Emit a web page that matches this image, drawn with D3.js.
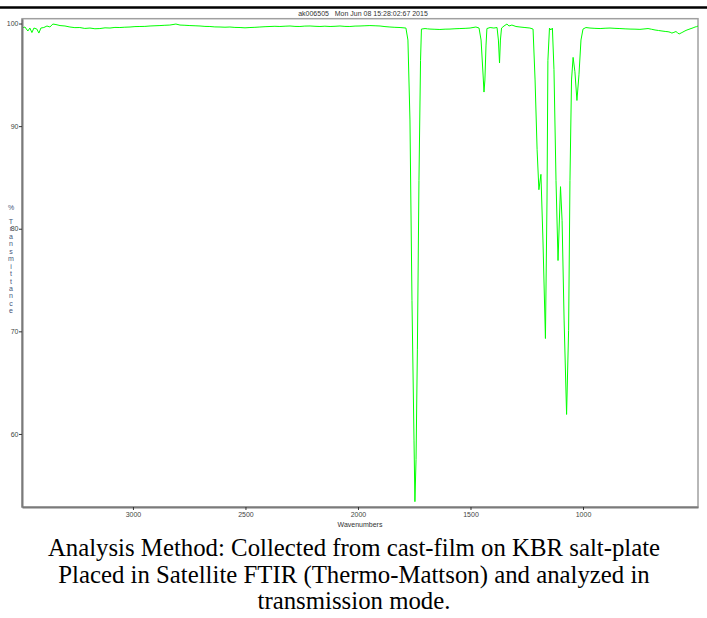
<!DOCTYPE html>
<html>
<head>
<meta charset="utf-8">
<script src="https://cdn.jsdelivr.net/npm/d3@7"></script>
<style>
  body { margin: 0; background: #fff; }
  svg { display: block; }
</style>
</head>
<body>
<script>
// spectrum (wavenumber, %T)
const wavenumbers = [
  3493, 3480, 3467, 3458, 3449, 3440, 3427, 3418, 3409, 3396, 3382, 3369, 3356, 3342, 3324,
  3302, 3280, 3258, 3236, 3214, 3191, 3169, 3147, 3124, 3102, 3080, 3058, 3036, 3013, 2991,
  2969, 2947, 2924, 2902, 2880, 2858, 2836, 2809, 2791, 2769, 2747, 2724, 2702, 2680, 2658,
  2636, 2613, 2591, 2569, 2547, 2524, 2502, 2480, 2458, 2436, 2413, 2391, 2369, 2347, 2324,
  2302, 2280, 2258, 2236, 2213, 2191, 2169, 2147, 2124, 2102, 2080, 2058, 2036, 2013, 1991,
  1969, 1947, 1924, 1902, 1880, 1858, 1836, 1813, 1787,
  1778, 1769, 1760, 1751, 1747, 1742, 1736, 1729, 1722, 1718,
  1702, 1691, 1680, 1658, 1636, 1613, 1591, 1569, 1547, 1524, 1502, 1476, 1462,
  1453, 1444, 1440, 1436, 1431, 1427, 1413, 1396, 1382,
  1376, 1371, 1367, 1362, 1351, 1338, 1329, 1316, 1298, 1280, 1258, 1236, 1222,
  1213, 1204, 1196, 1187, 1178, 1167, 1160, 1156, 1149, 1143, 1136, 1129, 1120, 1111,
  1100, 1093, 1084, 1073, 1064, 1058, 1051, 1044, 1036, 1027, 1018, 1009, 1000,
  987, 969, 947, 924, 902, 880, 858, 836, 813, 791, 769, 747, 729, 711, 695, 680, 664, 649,
  635, 622, 613, 605, 596, 587, 580, 573, 564, 556, 547, 538, 529, 520, 511, 502, 495, 489
];
const transmittance = [
  99.56, 99.66, 99.27, 99.56, 99.12, 99.56, 99.46, 99.07, 99.56, 99.61, 99.76, 99.66, 99.95, 99.90, 99.80,
  99.76, 99.66, 99.60, 99.61, 99.52, 99.56, 99.49, 99.51, 99.58, 99.56, 99.62, 99.61, 99.64, 99.66, 99.70,
  99.71, 99.72, 99.76, 99.78, 99.80, 99.83, 99.85, 99.95, 99.85, 99.83, 99.80, 99.78, 99.76, 99.72, 99.71,
  99.67, 99.66, 99.64, 99.66, 99.62, 99.61, 99.58, 99.61, 99.63, 99.66, 99.69, 99.71, 99.73, 99.71, 99.74,
  99.76, 99.72, 99.71, 99.75, 99.76, 99.73, 99.71, 99.74, 99.71, 99.73, 99.76, 99.72, 99.71, 99.75, 99.76,
  99.78, 99.80, 99.78, 99.76, 99.70, 99.66, 99.63, 99.61, 99.56,
  98.39, 90.60, 73.00, 59.40, 53.40, 57.50, 68.20, 84.70, 96.40, 99.46,
  99.51, 99.48, 99.46, 99.44, 99.42, 99.45, 99.46, 99.49, 99.51, 99.53, 99.56, 99.66, 99.56,
  98.39, 94.98, 93.32, 94.49, 97.90, 99.51, 99.61, 99.56, 99.61,
  98.39, 96.15, 98.39, 99.56, 99.76, 99.95, 99.76, 99.85, 99.71, 99.66, 99.61, 99.56, 99.46,
  94.50, 87.70, 83.80, 85.30, 78.90, 69.30, 82.80, 96.40, 99.56, 99.37, 99.56, 95.50, 84.70, 76.90,
  84.10, 80.80, 71.10, 61.90, 70.10, 84.70, 94.50, 96.70, 95.30, 92.50, 95.00, 98.39, 99.46,
  99.61, 99.56, 99.53, 99.51, 99.54, 99.56, 99.53, 99.51, 99.48, 99.46, 99.45, 99.43, 99.47, 99.51, 99.44, 99.37, 99.32, 99.27,
  99.23, 99.20, 99.15, 99.07, 99.14, 99.22, 99.10, 98.98, 99.08, 99.17, 99.28, 99.37, 99.44, 99.51, 99.58, 99.66, 99.70, 99.76
];
const xTicks = [3000, 2500, 2000, 1500, 1000];
const yTicks = [60, 70, 80, 90, 100];
const yLabel = ["%", "T", "r", "a", "n", "s", "m", "i", "t", "t", "a", "n", "c", "e"];
const chartTitle = "ak006505   Mon Jun 08 15:28:02:67 2015";
const caption = [
  "Analysis Method: Collected from cast-film on KBR salt-plate",
  "Placed in Satellite FTIR (Thermo-Mattson) and analyzed in",
  "transmission mode."
];

const width = 707, height = 618;
const plotLeft = 22, plotRight = 698, plotTop = 18.7, plotBottom = 507;

const svg = d3.select("body").append("svg")
    .attr("width", width)
    .attr("height", height);

svg.append("rect").attr("width", width).attr("height", height).attr("fill", "#fff");

// black rule across the top
svg.append("line")
    .attr("x1", 0).attr("x2", width)
    .attr("y1", 7.5).attr("y2", 7.5)
    .attr("stroke", "#000")
    .attr("stroke-width", 2.5);

const x = d3.scaleLinear().domain([3493, 489]).range([plotLeft, plotRight]);
const y = d3.scaleLinear().domain([52.88, 100.47]).range([plotBottom, plotTop]);

// frame
svg.append("rect")
    .attr("x", plotLeft).attr("y", plotTop)
    .attr("width", plotRight - plotLeft).attr("height", plotBottom - plotTop)
    .attr("fill", "none")
    .attr("stroke", "#a0a0a0")
    .attr("stroke-width", 1.5);

const points = wavenumbers.map((w, i) => [w, transmittance[i]]);

svg.append("path")
    .datum(points)
    .attr("fill", "none")
    .attr("stroke", "#00ff00")
    .attr("stroke-width", 1)
    .attr("d", d3.line().x(d => x(d[0])).y(d => y(d[1])));

const xAxis = svg.append("g")
    .attr("transform", `translate(0,${plotBottom})`)
    .call(d3.axisBottom(x).tickValues(xTicks).tickSize(3).tickSizeOuter(0).tickFormat(d3.format("d")));
const yAxis = svg.append("g")
    .attr("transform", `translate(${plotLeft},0)`)
    .call(d3.axisLeft(y).tickValues(yTicks).tickSize(3).tickSizeOuter(0).tickFormat(d3.format("d")));

for (let ax of [xAxis, yAxis]) {
    ax.select(".domain").attr("stroke", "#7a7a7a").attr("stroke-width", 2);
    ax.selectAll(".tick line").attr("stroke", "#333");
    ax.selectAll(".tick text")
        .attr("fill", "#444")
        .style("font-family", "Liberation Sans, Arial, sans-serif")
        .style("font-size", "7px");
}
yAxis.selectAll(".tick text").attr("x", -3.5);
xAxis.selectAll(".tick text").attr("y", 5);

svg.append("text")
    .attr("x", 363).attr("y", 16)
    .attr("text-anchor", "middle")
    .style("font-family", "Liberation Sans, Arial, sans-serif")
    .style("font-size", "7px")
    .attr("fill", "#333")
    .attr("xml:space", "preserve")
    .text(chartTitle);

svg.append("text")
    .attr("x", (plotLeft + plotRight) / 2).attr("y", 527)
    .attr("text-anchor", "middle")
    .style("font-family", "Liberation Sans, Arial, sans-serif")
    .style("font-size", "7px")
    .attr("fill", "#333")
    .text("Wavenumbers");

// vertical axis title, one letter per row
svg.selectAll("text.ylab")
    .data(yLabel)
    .join("text")
    .attr("class", "ylab")
    .attr("x", 11)
    .attr("y", (d, i) => i === 0 ? 210 : 210 + 6.5 + i * 7.45)
    .attr("text-anchor", "middle")
    .style("font-family", "Liberation Sans, Arial, sans-serif")
    .style("font-size", "7px")
    .attr("fill", "#44557a")
    .text(d => d);

svg.selectAll("text.caption")
    .data(caption)
    .join("text")
    .attr("class", "caption")
    .attr("x", 354)
    .attr("y", (d, i) => 556 + i * 26.5)
    .attr("text-anchor", "middle")
    .style("font-family", "Liberation Serif, Times New Roman, serif")
    .style("font-size", "24.8px")
    .attr("fill", "#000")
    .text(d => d);
</script>
</body>
</html>
